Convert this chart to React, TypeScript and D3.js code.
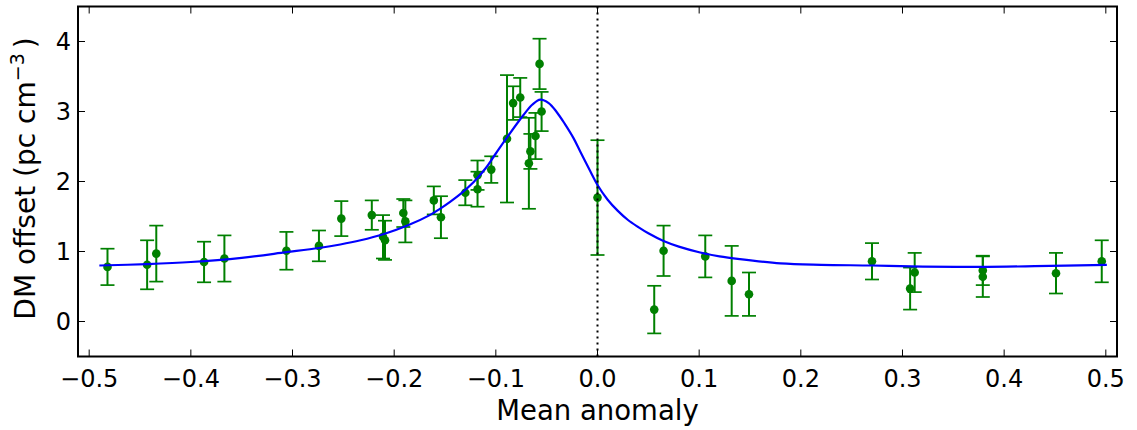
import * as d3 from "d3";

// measured points: orbital phase, DM offset, 1-sigma error
const phase = [
  -0.482, -0.443, -0.434, -0.387, -0.367, -0.306, -0.274, -0.252, -0.222, -0.211,
  -0.209, -0.191, -0.189, -0.161, -0.154, -0.13, -0.118, -0.118, -0.1045, -0.089,
  -0.083, -0.076, -0.0675, -0.066, -0.061, -0.057, -0.055, 0.0, 0.0558, 0.065,
  0.106, 0.132, 0.149, 0.27, 0.3075, 0.312, 0.379, 0.379, 0.451, 0.496,
];
const dmOffset = [
  0.78, 0.81, 0.97, 0.85, 0.9, 1.01, 1.08, 1.47, 1.52, 1.21,
  1.16, 1.55, 1.43, 1.73, 1.49, 1.84, 2.09, 1.89, 2.17, 2.61,
  3.12, 3.2, 2.26, 2.43, 2.65, 3.68, 3.0, 1.77, 0.17, 1.01,
  0.93, 0.58, 0.39, 0.86, 0.47, 0.7, 0.73, 0.64, 0.69, 0.86,
];
const dmErr = [
  0.26, 0.35, 0.4, 0.29, 0.33, 0.27, 0.22, 0.25, 0.21, 0.31,
  0.28, 0.2, 0.3, 0.2, 0.3, 0.18, 0.21, 0.25, 0.19, 0.91,
  0.24, 0.28, 0.65, 0.25, 0.33, 0.36, 0.28, 0.82, 0.34, 0.36,
  0.3, 0.5, 0.31, 0.26, 0.3, 0.28, 0.21, 0.29, 0.29, 0.3,
];

// model curve
const modelX = [
  -0.49, -0.443, -0.4, -0.35, -0.306, -0.274, -0.253, -0.233, -0.21, -0.187,
  -0.165, -0.155, -0.145, -0.135, -0.122, -0.11, -0.1, -0.089, -0.0728, -0.064,
  -0.0563, -0.048, -0.04, -0.032, -0.0236, -0.017, -0.0072, 0.0, 0.01, 0.02,
  0.03, 0.04, 0.05, 0.065, 0.08, 0.1, 0.12, 0.14, 0.18, 0.22,
  0.27, 0.32, 0.376, 0.43, 0.501,
];
const modelY = [
  0.8, 0.82, 0.85, 0.91, 0.99, 1.05, 1.1, 1.16, 1.25, 1.37,
  1.52, 1.61, 1.71, 1.82, 1.99, 2.19, 2.4, 2.63, 2.95, 3.1,
  3.17, 3.12, 2.99, 2.82, 2.62, 2.43, 2.15, 1.95, 1.74, 1.58,
  1.45, 1.35, 1.26, 1.15, 1.07, 0.99, 0.93, 0.89, 0.83, 0.81,
  0.8, 0.785, 0.78, 0.79, 0.81,
];

const xTicks = [-0.5, -0.4, -0.3, -0.2, -0.1, 0.0, 0.1, 0.2, 0.3, 0.4, 0.5];
const yTicks = [0, 1, 2, 3, 4];

const W = 1137, H = 430;
const left = 78, right = 1117, top = 6.5, bottom = 356.5;
const font = "'DejaVu Sans', sans-serif";
const green = "#008000";

function fmt(v: number) {
  const s = v.toFixed(1);
  return v < 0 ? "\u2212" + s.slice(1) : s;
}

export default function App() {
  const x = d3.scaleLinear().domain([-0.511, 0.511]).range([left, right]);
  const y = d3.scaleLinear().domain([-0.5, 4.5]).range([bottom, top]);

  const points = phase.map((p, i) => ({ p, v: dmOffset[i], e: dmErr[i] }));
  const model = modelX.map((m, i) => [m, modelY[i]] as [number, number]);

  const line = d3
    .line<[number, number]>()
    .x(d => x(d[0]))
    .y(d => y(d[1]))
    .curve(d3.curveCatmullRom.alpha(0.5));

  const tickLen = 7;
  const cap = 7;

  return (
    <svg
      width={W}
      height={H}
      style={{ position: "absolute", left: 0, top: 0, background: "#fff" }}
      fontFamily={font}
    >
      <rect width={W} height={H} fill="#fff" />

      {/* error bars and markers */}
      <g stroke={green} fill={green}>
        {points.map((d, i) => (
          <g key={i}>
            <line x1={x(d.p)} x2={x(d.p)} y1={y(d.v - d.e)} y2={y(d.v + d.e)} strokeWidth={2} />
            <line x1={x(d.p) - cap} x2={x(d.p) + cap} y1={y(d.v + d.e)} y2={y(d.v + d.e)} strokeWidth={1.7} />
            <line x1={x(d.p) - cap} x2={x(d.p) + cap} y1={y(d.v - d.e)} y2={y(d.v - d.e)} strokeWidth={1.7} />
            <circle cx={x(d.p)} cy={y(d.v)} r={4.3} stroke="none" />
          </g>
        ))}
      </g>

      {/* model */}
      <path d={line(model) ?? ""} fill="none" stroke="#0000ff" strokeWidth={2.2} />

      {/* periastron marker */}
      <line
        x1={x(0)}
        x2={x(0)}
        y1={top}
        y2={bottom}
        stroke="#000"
        strokeWidth={2}
        strokeDasharray="2,4"
      />

      {/* ticks */}
      <g stroke="#000" strokeWidth={1}>
        {xTicks.map(t => (
          <g key={"x" + t}>
            <line x1={x(t)} x2={x(t)} y1={bottom} y2={bottom - tickLen} />
            <line x1={x(t)} x2={x(t)} y1={top} y2={top + tickLen} />
          </g>
        ))}
        {yTicks.map(t => (
          <g key={"y" + t}>
            <line x1={left} x2={left + tickLen} y1={y(t)} y2={y(t)} />
            <line x1={right} x2={right - tickLen} y1={y(t)} y2={y(t)} />
          </g>
        ))}
      </g>

      {/* frame */}
      <rect x={left} y={top} width={right - left} height={bottom - top} fill="none" stroke="#000" strokeWidth={2} />

      {/* tick labels */}
      <g fontSize={24} fill="#000">
        {xTicks.map(t => (
          <text key={"xl" + t} x={x(t)} y={387} textAnchor="middle">
            {fmt(t)}
          </text>
        ))}
        {yTicks.map(t => (
          <text key={"yl" + t} x={71} y={y(t) + 8.5} textAnchor="end">
            {t}
          </text>
        ))}
      </g>

      {/* axis labels */}
      <text x={(left + right) / 2} y={420} textAnchor="middle" fontSize={27.5}>
        Mean anomaly
      </text>
      <text
        transform={`translate(35, ${(top + bottom) / 2 - 3}) rotate(-90)`}
        textAnchor="middle"
        fontSize={28}
      >
        DM offset (pc cm
        <tspan dy={-11} fontSize={19}>{"\u22123"}</tspan>
        <tspan dy={11} dx={5}>)</tspan>
      </text>
    </svg>
  );
}
